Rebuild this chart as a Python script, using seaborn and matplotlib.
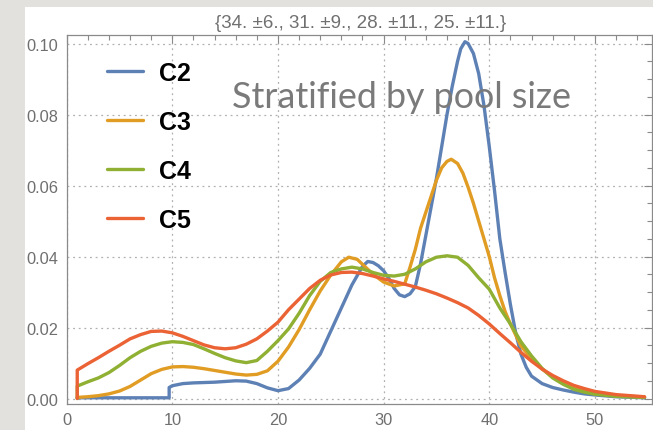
import pandas as pd
import numpy as np
import matplotlib
matplotlib.use("Agg")
import matplotlib.pyplot as plt
import seaborn as sns
from matplotlib.patches import Rectangle

# values
c2_x = [1, 9.7, 9.7, 10, 11, 12, 13, 14, 15, 16, 17, 18, 19, 20, 21, 22, 23, 24, 25, 26, 27,
        28, 28.5, 29, 29.5, 30, 30.5, 31, 31.5, 32, 32.5, 33, 33.5, 34, 34.5, 35, 35.5, 36,
        36.5, 37, 37.3, 37.7, 38, 38.5, 39, 39.5, 40, 40.5, 41, 41.5, 42, 42.5, 43, 43.5, 44,
        45, 46, 47, 48, 49, 50, 52, 54.7]
c2_y = [0.0002, 0.0002, 0.0031, 0.0036, 0.0042, 0.0044, 0.0045, 0.0046, 0.0048, 0.0050,
        0.0049, 0.0042, 0.0030, 0.0022, 0.0028, 0.0052, 0.0085, 0.0125, 0.0190, 0.0255,
        0.0320, 0.0372, 0.0386, 0.0383, 0.0374, 0.0360, 0.0338, 0.0310, 0.0292, 0.0287,
        0.0295, 0.0315, 0.0380, 0.0460, 0.0540, 0.0620, 0.0710, 0.0800, 0.0880, 0.0950,
        0.0985, 0.1005, 0.1000, 0.0972, 0.0915, 0.0825, 0.0710, 0.0585, 0.0450, 0.0355,
        0.0265, 0.0185, 0.0125, 0.0088, 0.0063, 0.0042, 0.0031, 0.0024, 0.0018, 0.0013,
        0.0010, 0.0005, 0.0002]

c3_x = [1, 2, 3, 4, 5, 6, 7, 8, 9, 10, 11, 12, 13, 14, 15, 16, 17, 18, 19, 20, 21, 22, 23,
        24, 25, 26, 26.7, 27.5, 28, 29, 30, 31, 32, 32.5, 33, 33.5, 34, 34.5, 35, 35.5, 36,
        36.4, 37, 37.5, 38, 38.5, 39, 39.5, 40, 40.5, 41, 41.5, 42, 43, 44, 45, 46, 47, 48,
        49, 50, 52, 54.7]
c3_y = [0.0003, 0.0005, 0.0008, 0.0013, 0.0021, 0.0034, 0.0052, 0.0070, 0.0082, 0.0089,
        0.0090, 0.0088, 0.0084, 0.0079, 0.0074, 0.0069, 0.0066, 0.0068, 0.0078, 0.0105,
        0.0145, 0.0194, 0.0250, 0.0303, 0.0348, 0.0385, 0.0398, 0.0392, 0.0378, 0.0350,
        0.0328, 0.0317, 0.0323, 0.0370, 0.0420, 0.0480, 0.0525, 0.0570, 0.0615, 0.0650,
        0.0668, 0.0674, 0.0662, 0.0635, 0.0595, 0.0550, 0.0500, 0.0450, 0.0400, 0.0340,
        0.0290, 0.0245, 0.0210, 0.0148, 0.0112, 0.0083, 0.0060, 0.0043, 0.0030, 0.0021,
        0.0015, 0.0008, 0.0004]

c4_x = [1, 1, 2, 3, 4, 5, 6, 7, 8, 9, 10, 11, 12, 13, 14, 15, 16, 17, 18, 19, 20, 21, 22,
        23, 24, 25, 26, 27, 28, 29, 30, 31, 32, 33, 34, 35, 36, 37, 38, 39, 40, 41, 42, 43,
        44, 45, 46, 47, 48, 49, 50, 52, 54.7]
c4_y = [0.0, 0.0035, 0.0047, 0.0058, 0.0073, 0.0093, 0.0115, 0.0133, 0.0147, 0.0156,
        0.0160, 0.0158, 0.0152, 0.0140, 0.0127, 0.0115, 0.0106, 0.0101, 0.0107, 0.0133,
        0.0163, 0.0196, 0.0240, 0.0290, 0.0330, 0.0355, 0.0365, 0.0370, 0.0365, 0.0355,
        0.0347, 0.0345, 0.0350, 0.0365, 0.0385, 0.0398, 0.0402, 0.0398, 0.0375, 0.0340,
        0.0308, 0.0255, 0.0210, 0.0160, 0.0120, 0.0085, 0.0058, 0.0040, 0.0026, 0.0018,
        0.0012, 0.0006, 0.0003]

c5_x = [1, 1, 2, 3, 4, 5, 6, 7, 8, 9, 10, 11, 12, 13, 14, 15, 16, 17, 18, 19, 20, 21, 22,
        23, 24, 25, 26, 27, 28, 29, 30, 31, 32, 33, 34, 35, 36, 37, 38, 39, 40, 41, 42, 43,
        44, 45, 46, 47, 48, 49, 50, 52, 54.7]
c5_y = [0.0, 0.0080, 0.0098, 0.0115, 0.0133, 0.0150, 0.0168, 0.0180, 0.0189, 0.0190,
        0.0185, 0.0175, 0.0163, 0.0151, 0.0143, 0.0140, 0.0143, 0.0153, 0.0168, 0.0190,
        0.0215, 0.0250, 0.0280, 0.0310, 0.0333, 0.0348, 0.0355, 0.0356, 0.0352, 0.0345,
        0.0337, 0.0330, 0.0322, 0.0314, 0.0305, 0.0295, 0.0283, 0.0270, 0.0255, 0.0234,
        0.0210, 0.0183, 0.0157, 0.0130, 0.0105, 0.0083, 0.0065, 0.0050, 0.0037, 0.0028,
        0.0020, 0.0011, 0.0005]

labels = ["C2", "C3", "C4", "C5"]
colors = ["#5E81B5", "#E19C24", "#8FB032", "#EB6235"]
title = "{34. \u00b16., 31. \u00b19., 28. \u00b111., 25. \u00b111.}"
note = "Stratified by pool size"

frames = []
for lab, xs, ys in zip(labels, [c2_x, c3_x, c4_x, c5_x], [c2_y, c3_y, c4_y, c5_y]):
    frames.append(pd.DataFrame({"x": xs, "y": ys, "grp": lab}))
df = pd.concat(frames, ignore_index=True)

sns.set_style("white")
plt.rcParams["font.family"] = ["Liberation Sans", "DejaVu Sans"]

fig = plt.figure(figsize=(6.53, 4.31), dpi=100)
fig.patch.set_facecolor("#e2e1dd")
fig.patches.append(Rectangle((25 / 653, 0), 1, 1 - 8 / 431, transform=fig.transFigure,
                             facecolor="white", edgecolor="none", zorder=-5))

ax = fig.add_axes([0.1021, 0.0603, 0.8963, 0.8562])
ax.set_zorder(1)
ax.set_facecolor("white")
sns.lineplot(data=df, x="x", y="y", hue="grp", hue_order=labels, palette=colors,
             estimator=None, sort=False, units="grp", lw=2.4, ax=ax)

ax.set_xlim(0, 55.4)
ax.set_ylim(-0.00155, 0.1024)
ax.set_xticks([0, 10, 20, 30, 40, 50])
ax.set_yticks([0.0, 0.02, 0.04, 0.06, 0.08, 0.10])
ax.set_yticklabels(["0.00", "0.02", "0.04", "0.06", "0.08", "0.10"])
ax.set_xticks(np.arange(0, 56, 2), minor=True)
ax.set_yticks(np.arange(0, 0.101, 0.005), minor=True)
ax.tick_params(which="both", direction="in", top=True, right=True, color="#8a8a8a",
               labelcolor="#6f6f6f", labelsize=11.8, width=0.8)
ax.tick_params(which="major", length=6, pad=6)
ax.tick_params(which="minor", length=3.5)
ax.grid(True, which="major", ls=(0, (1.5, 3)), color="#b0b0b0", lw=0.9)
for s in ax.spines.values():
    s.set_color("#8a8a8a")
    s.set_linewidth(0.9)
ax.set_xlabel("")
ax.set_ylabel("")

h, l = ax.get_legend_handles_labels()
leg = ax.legend(h, l, loc="upper left",
                bbox_to_anchor=((107 - 66.7) / 585.3, 1 - (62 - 36) / 369),
                frameon=False, borderpad=0, borderaxespad=0, handlelength=1.45,
                handletextpad=0.65, labelspacing=1.0,
                prop={"family": "Liberation Sans", "weight": "bold", "size": 18})
for t in leg.get_texts():
    t.set_color("black")

fig.text(361 / 653, 1 - 28 / 431, title, ha="center", va="baseline", fontsize=13.5,
         color="#707070", zorder=10)
fig.text(232 / 653, 1 - 108 / 431, note, ha="left", va="baseline", fontsize=25.8,
         color="#7a7a7a", family="Lato", zorder=10)

fig.savefig("out.png", dpi=100, facecolor=fig.get_facecolor())
